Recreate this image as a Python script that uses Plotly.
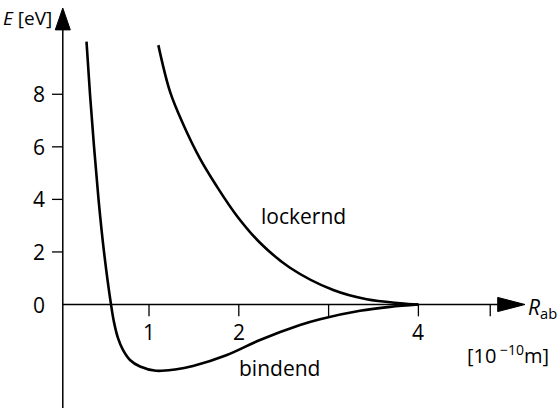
import plotly.graph_objects as go

# bindend (bonding) curve
r_bind = [0.304, 0.343, 0.388, 0.438, 0.499, 0.577, 0.610, 0.655, 0.710, 0.788, 0.900,
          1.078, 1.290, 1.490, 1.868, 2.236, 2.682, 2.904, 3.350, 3.684, 4.0]
e_bind = [10.0, 8.0, 6.0, 4.0, 2.0, 0.0, -0.67, -1.28, -1.73, -2.11, -2.36,
          -2.52, -2.47, -2.34, -1.92, -1.35, -0.78, -0.56, -0.24, -0.09, 0.0]

# lockernd (antibonding) curve
r_lock = [1.104, 1.234, 1.382, 1.568, 1.754, 1.977, 2.236, 2.57, 3.052, 3.424, 3.795, 4.0]
e_lock = [9.87, 8.1, 6.85, 5.55, 4.5, 3.38, 2.35, 1.4, 0.55, 0.2, 0.05, 0.0]

x_ticks = [1, 2, 3, 4, 4.8]
x_ticklabels = ["1", "2", "", "4", ""]
y_ticks = [2, 4, 6, 8]
y_label_vals = [0, 2, 4, 6, 8]
y_ticklabels = ["0", "2", "4", "6", "8"]

# plot window (whole figure)
x_range = [-0.6592, 5.5768]
y_range = [-3.938, 11.587]
y_axis_at = 0.04          # where the vertical axis sits
x_axis_end = 4.883        # base of the R arrow
y_axis_end = 10.45        # base of the E arrow

FONT = "Open Sans, sans-serif"
LW = 1.5

fig = go.Figure()

# axes lines
fig.add_trace(go.Scatter(x=[y_axis_at, y_axis_at], y=[y_range[0], y_axis_end], mode="lines",
                         line=dict(color="black", width=LW), hoverinfo="skip"))
fig.add_trace(go.Scatter(x=[y_axis_at, x_axis_end], y=[0, 0], mode="lines",
                         line=dict(color="black", width=LW), hoverinfo="skip"))

# arrow heads
fig.add_trace(go.Scatter(x=[y_axis_at - 0.084, y_axis_at + 0.084, y_axis_at, y_axis_at - 0.084],
                         y=[y_axis_end, y_axis_end, 11.28, y_axis_end],
                         mode="lines", fill="toself", fillcolor="black",
                         line=dict(color="black", width=1), hoverinfo="skip"))
fig.add_trace(go.Scatter(x=[x_axis_end, x_axis_end, 5.187, x_axis_end],
                         y=[-0.27, 0.27, 0, -0.27],
                         mode="lines", fill="toself", fillcolor="black",
                         line=dict(color="black", width=1), hoverinfo="skip"))

# ticks
for t in x_ticks:
    fig.add_shape(type="line", x0=t, x1=t, y0=0, y1=-0.45, line=dict(color="black", width=1.3))
for t in y_ticks:
    fig.add_shape(type="line", x0=y_axis_at - 0.12, x1=y_axis_at, y0=t, y1=t,
                  line=dict(color="black", width=1.3))

# tick labels
for t, lab in zip(x_ticks, x_ticklabels):
    if lab:
        fig.add_annotation(x=t, y=-1.05, text=lab, showarrow=False,
                           font=dict(family=FONT, size=21, color="black"))
for v, lab in zip(y_label_vals, y_ticklabels):
    fig.add_annotation(x=-0.136, y=v, text=lab, showarrow=False, xanchor="right",
                       font=dict(family=FONT, size=21, color="black"))

# curves
fig.add_trace(go.Scatter(x=r_bind, y=e_bind, mode="lines", name="bindend",
                         line=dict(color="black", width=2.6, shape="spline", smoothing=1)))
fig.add_trace(go.Scatter(x=r_lock, y=e_lock, mode="lines", name="lockernd",
                         line=dict(color="black", width=2.6, shape="spline", smoothing=1)))

# texts
fig.add_annotation(x=-0.648, y=10.9, text="<i>E</i> [eV]", showarrow=False, xanchor="left",
                   font=dict(family=FONT, size=19, color="black"))
fig.add_annotation(x=5.2, y=-0.15, text="<i>R</i><sub>ab</sub>", showarrow=False, xanchor="left",
                   font=dict(family=FONT, size=21, color="black"))
fig.add_annotation(x=5.0, y=-1.92, text="[10<sup> \u221210</sup>m]", showarrow=False,
                   font=dict(family=FONT, size=20, color="black"))
fig.add_annotation(x=2.715, y=3.37, text="lockernd", showarrow=False,
                   font=dict(family=FONT, size=21, color="black"))
fig.add_annotation(x=2.45, y=-2.42, text="bindend", showarrow=False,
                   font=dict(family=FONT, size=21, color="black"))

fig.update_layout(width=560, height=408, margin=dict(l=0, r=0, t=0, b=0),
                  paper_bgcolor="white", plot_bgcolor="white", showlegend=False,
                  xaxis=dict(range=x_range, visible=False, fixedrange=True),
                  yaxis=dict(range=y_range, visible=False, fixedrange=True))

# page has a default 8px body margin; drop it so the figure sits at the corner
fig.write_html("out.html", config={"displayModeBar": False},
               post_script="document.body.style.margin='0';")
